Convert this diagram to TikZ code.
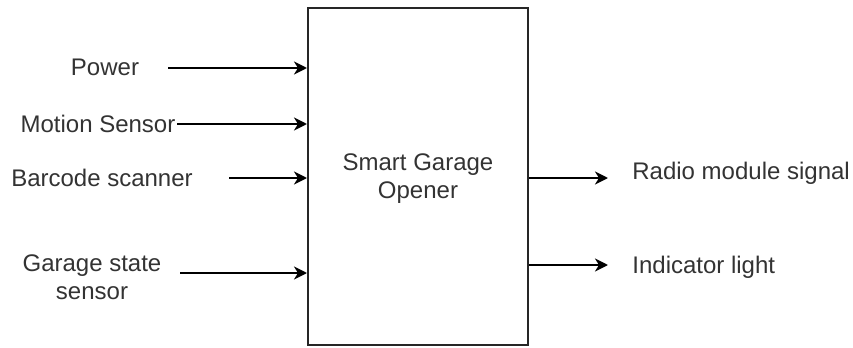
\documentclass[tikz,border=0pt]{standalone}
\usepackage{fontspec}
\setmainfont{Liberation Sans}
\usetikzlibrary{arrows.meta,positioning}

\begin{document}
\begin{tikzpicture}[x=0.5pt,y=-0.5pt,
    font=\fontsize{12}{14}\selectfont,
    txt/.style={text=black!80,inner sep=0pt,align=center},
    sig/.style={arrows={-Stealth[length=6.5pt,width=6.5pt,inset=2pt]},line width=1pt,color=black}]
  \useasboundingbox (0,0) rectangle (853,348);

  \node[draw=black!85,line width=1pt,minimum width=110pt,minimum height=168.5pt,
        txt] (opener) at (418,176.5) {};
  \node[txt] (name) at (418,179) {Smart Garage\\Opener};

  \node[txt] (power) at (105,67) {Power};
  \coordinate (Pw) at (168,68);
  \draw[sig] (Pw) -- (Pw -| opener.west);

  \node[txt] (motion) at (98,124) {Motion Sensor};
  \coordinate (Mo) at (177,124);
  \draw[sig] (Mo) -- (Mo -| opener.west);

  \node[txt] (barcode) at (102,178) {Barcode scanner};
  \coordinate (Bc) at (229,178);
  \draw[sig] (Bc) -- (Bc -| opener.west);

  \node[txt] (garage) at (92,277) {Garage state\\sensor};
  \coordinate (Gs) at (180,273);
  \draw[sig] (Gs) -- (Gs -| opener.west);

  \coordinate (Ra) at (608,178);
  \draw[sig] (Ra -| opener.east) -- (Ra);
  \node[txt,anchor=west] (radio) at (632,173) {Radio module signal};

  \coordinate (In) at (608,265);
  \draw[sig] (In -| opener.east) -- (In);
  \node[txt,anchor=west] (light) at (632,267) {Indicator light};
\end{tikzpicture}
\end{document}
